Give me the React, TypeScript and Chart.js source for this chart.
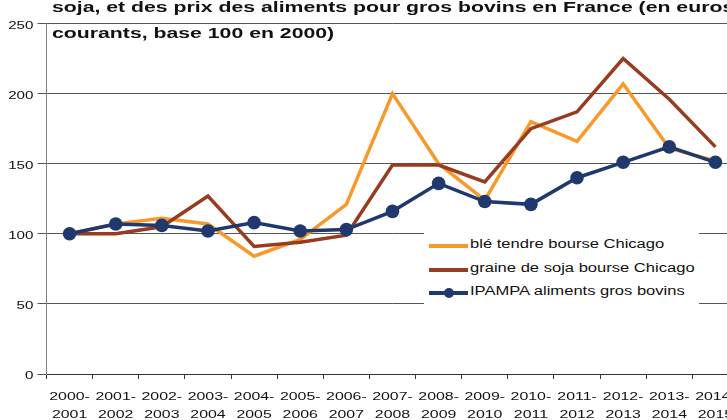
import React, { useEffect, useRef } from "react";
import { Chart, registerables } from "chart.js";

Chart.register(...registerables);

// ---- data ----
const categories = [
  "2000-2001", "2001-2002", "2002-2003", "2003-2004", "2004-2005",
  "2005-2006", "2006-2007", "2007-2008", "2008-2009", "2009-2010",
  "2010-2011", "2011-2012", "2012-2013", "2013-2014", "2014-2015",
];
const yTickValues = [0, 50, 100, 150, 200, 250];
const bleTendre = [100, 107, 111, 107, 84, 96, 121, 200, 150, 124, 180, 166, 207, 161, 152];
const grainesSoja = [100, 100, 105, 127, 91, 94, 99, 149, 149, 137, 175, 187, 225, 196, 162];
const ipampaBovins = [100, 107, 106, 102, 108, 102, 103, 116, 136, 123, 121, 140, 151, 162, 151];
const seriesNames = [
  "blé tendre bourse Chicago",
  "graine de soja bourse Chicago",
  "IPAMPA aliments gros bovins",
];
const titleLines = [
  "soja, et des prix des aliments pour gros bovins en France (en euros",
  "courants, base 100 en 2000)",
];

// ---- styles ----
const FONT = "'Liberation Sans', Arial, Helvetica, sans-serif";
const SX = 1.38; // horizontal stretch of the reference text
const COLORS = ["#F7992B", "#983B1E", "#1F386E"];

const splitLabel = (c: string) => {
  const [a, b] = c.split("-");
  return [a + "-", b];
};

const stretchedTicks = {
  id: "stretchedTicks",
  afterDraw(chart: any) {
    const ctx = chart.ctx as CanvasRenderingContext2D;
    const xs = chart.scales.x;
    const ys = chart.scales.y;
    const area = chart.chartArea;
    ctx.save();
    ctx.fillStyle = "#111";
    ctx.textBaseline = "alphabetic";
    // y axis labels
    ctx.font = `11px ${FONT}`;
    ctx.textAlign = "right";
    ys.ticks.forEach((t: any, i: number) => {
      const y = ys.getPixelForTick(i);
      ctx.save();
      ctx.translate(area.left - 13, y + 5.2);
      ctx.scale(SX, 1);
      ctx.fillText(String(t.value), 0, 0);
      ctx.restore();
    });
    // x axis labels
    ctx.font = `11.5px ${FONT}`;
    ctx.textAlign = "center";
    categories.forEach((c, i) => {
      const x = xs.getPixelForTick(i);
      splitLabel(c).forEach((ln, j) => {
        ctx.save();
        ctx.translate(x, xs.top + 25.6 + j * 18);
        ctx.scale(SX, 1);
        ctx.fillText(ln, 0, 0);
        ctx.restore();
      });
    });
    ctx.restore();
  },
};

export default function App() {
  const ref = useRef<HTMLCanvasElement>(null);

  useEffect(() => {
    if (!ref.current) return;
    const chart = new Chart(ref.current, {
      type: "line",
      data: {
        labels: categories,
        datasets: [
          {
            label: seriesNames[0],
            data: bleTendre,
            borderColor: COLORS[0],
            backgroundColor: COLORS[0],
            borderWidth: 3.5,
            pointRadius: 0,
            tension: 0,
            order: 3,
          },
          {
            label: seriesNames[1],
            data: grainesSoja,
            borderColor: COLORS[1],
            backgroundColor: COLORS[1],
            borderWidth: 3.5,
            pointRadius: 0,
            tension: 0,
            order: 2,
          },
          {
            label: seriesNames[2],
            data: ipampaBovins,
            borderColor: COLORS[2],
            backgroundColor: COLORS[2],
            borderWidth: 3.5,
            pointRadius: 6.8,
            pointBackgroundColor: COLORS[2],
            pointBorderColor: COLORS[2],
            pointBorderWidth: 0,
            tension: 0,
            order: 1,
          },
        ],
      },
      options: {
        responsive: false,
        animation: false,
        devicePixelRatio: 1,
        layout: { padding: { top: 23.5, right: 21.5, left: 0, bottom: 0 } },
        plugins: {
          legend: { display: false },
          title: { display: false },
          tooltip: { enabled: false },
        },
        scales: {
          x: {
            type: "category",
            offset: true,
            grid: {
              offset: true,
              drawOnChartArea: false,
              drawTicks: true,
              tickLength: 5,
              color: "#333",
            },
            border: { color: "#333", width: 1 },
            ticks: { display: false, autoSkip: false },
            afterFit: (s: any) => {
              s.height = 46;
            },
          },
          y: {
            min: 0,
            max: 250,
            afterBuildTicks: (s: any) => {
              s.ticks = yTickValues.map((v) => ({ value: v }));
            },
            grid: { color: "#555", drawTicks: true, tickLength: 9 },
            border: { color: "#808080", width: 1 },
            ticks: { display: false },
            afterFit: (s: any) => {
              s.width = 46.5;
            },
          },
        },
      },
      plugins: [stretchedTicks],
    });
    return () => chart.destroy();
  }, []);

  const rowCenters = [246, 269.5, 293];
  const boxTop = 232;

  return (
    <div
      style={{
        position: "absolute",
        left: 0,
        top: 0,
        width: 727,
        height: 420,
        overflow: "hidden",
        background: "#fff",
      }}
    >
      <canvas ref={ref} width={760} height={420} style={{ display: "block" }} />
      <div
        style={{
          position: "absolute",
          left: 52,
          top: -5.8,
          font: `bold 15.4px ${FONT}`,
          lineHeight: "26px",
          color: "#111",
          whiteSpace: "nowrap",
          transform: `scaleX(${SX})`,
          transformOrigin: "0 0",
        }}
      >
        {titleLines.map((l, i) => (
          <div key={i}>{l}</div>
        ))}
      </div>
      <div
        style={{
          position: "absolute",
          left: 423.5,
          top: boxTop,
          width: 275,
          height: 75,
          background: "#fff",
        }}
      >
        {seriesNames.map((name, i) => (
          <div
            key={i}
            style={{
              position: "absolute",
              left: 0,
              top: rowCenters[i] - boxTop - 10,
              width: 275,
              height: 20,
            }}
          >
            <div
              style={{
                position: "absolute",
                left: 5.5,
                top: 8,
                width: 39,
                height: 4,
                background: COLORS[i],
              }}
            />
            {i === 2 && (
              <div
                style={{
                  position: "absolute",
                  left: 5.5 + 19.5 - 5,
                  top: 5,
                  width: 10,
                  height: 10,
                  borderRadius: "50%",
                  background: COLORS[i],
                }}
              />
            )}
            <div
              style={{
                position: "absolute",
                left: 46.5,
                top: 1,
                height: 20,
                lineHeight: "20px",
                font: `12px ${FONT}`,
                color: "#111",
                whiteSpace: "nowrap",
                transform: `scaleX(${SX})`,
                transformOrigin: "0 50%",
              }}
            >
              {name}
            </div>
          </div>
        ))}
      </div>
    </div>
  );
}
